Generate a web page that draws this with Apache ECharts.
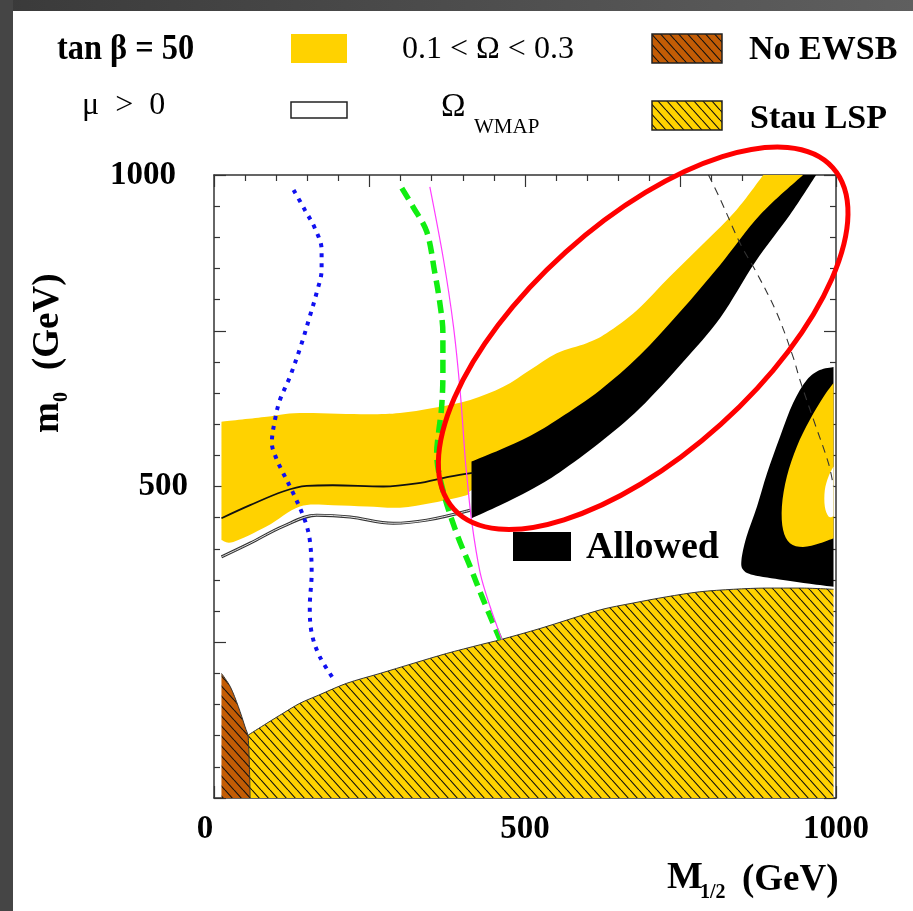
<!DOCTYPE html>
<html>
<head>
<meta charset="utf-8">
<title>m0 - M1/2 plane, tan beta = 50</title>
<script src="https://cdn.jsdelivr.net/npm/echarts/dist/echarts.min.js"></script>
<style>
html,body{margin:0;padding:0;background:#fff;}
#chart{width:913px;height:911px;}
</style>
</head>
<body>
<div id="chart"></div>
<script>
const FONT = '"Liberation Serif","Times New Roman",serif';

// Axis ticks (GeV)
const axisMin = 0, axisMax = 1000, majorStep = 250, labelledTicks = [0, 500, 1000];

// 0.1 < Omega h^2 < 0.3 band: upper edge, then lower edge (M1/2, m0)
const omegaUpper = [[12,604],[85,612],[138,618],[246,616],[299,618],[352,626],[412,639],[465,660],[508,687],[551,714],[599,730],[631,746],[680,783],[733,837],[787,890],[840,944],[883,1000]];
const omegaLower = [[947,1000],[930,960],[878,899],[814,813],[750,740],[685,668],[621,613],[556,567],[508,538],[460,515],[414,494],[406,486],[352,474],[299,466],[246,468],[191,470],[138,468],[85,436],[31,411],[12,414]];

// Allowed strip (black)
const allowedUpper = [[414,540],[460,559],[508,581],[556,610],[621,655],[685,711],[749,780],[814,856],[878,936],[947,1000]];
const allowedLower = [[968,1000],[926,936],[870,860],[814,771],[754,700],[685,626],[621,571],[556,523],[508,494],[460,470],[414,449]];

// Funnel region at large M1/2
const funnelOuter = [[996,692],[974,687],[953,671],[931,634],[910,580],[889,521],[873,468],[856,419],[848,382],[851,366],[867,358],[915,350],[958,344],[996,339]];
const funnelInner = [[996,666],[980,644],[958,607],[937,564],[921,516],[913,468],[915,430],[926,409],[947,403],[974,409],[996,417]];
const funnelHole = [[996,532],[988,516],[982,494],[982,468],[988,452],[996,452]];

// Stau LSP and no-EWSB boundaries
const stauEdge = [[55,101],[85,120],[111,136],[138,152],[168,165],[213,184],[267,200],[320,216],[374,232],[428,246],[460,254],[524,272],[621,302],[674,313],[728,323],[781,331],[835,335],[889,337],[942,337],[996,335]];
const ewsbEdge = [[12,200],[26,179],[39,147],[50,114],[55,98],[58,0]];

// WMAP strips
const wmapUpper = [[12,449],[58,470],[111,492],[149,501],[191,502],[272,500],[326,505],[379,516],[416,522]];
const wmapLower = [[12,387],[58,409],[111,436],[165,454],[219,451],[288,441],[342,446],[412,462]];

// Constraint contours
const blueContour = [[128,976],[146,944],[162,915],[173,880],[173,848],[165,811],[154,773],[141,730],[122,676],[106,639],[98,607],[93,570],[101,543],[111,522],[127,490],[146,446],[154,414],[157,361],[154,307],[157,265],[170,227],[195,187]];
const greenContour = [[302,979],[320,949],[342,909],[355,843],[363,795],[368,746],[368,682],[366,628],[361,586],[358,554],[368,494],[390,425],[412,371],[433,318],[460,254]];
const magentaContour = [[347,981],[369,864],[385,757],[396,650],[404,543],[406,522],[414,446],[428,361],[444,307],[463,254]];
const greyContour = [[795,1000],[814,961],[846,890],[873,842],[905,778],[931,708],[942,671],[966,601],[988,537],[996,500]];

// Highlight ellipse: centre, semi-axes (GeV) and tilt (degrees)
const highlight = {cx: 690, cy: 738, rx: 410, ry: 186, angle: 42};

const YELLOW = '#ffd200', BROWN = '#c25c05';

function hatch(bg) {
  const w = 9, h = 10;
  const c = document.createElement('canvas');
  c.width = w; c.height = h;
  const g = c.getContext('2d');
  g.fillStyle = bg; g.fillRect(0, 0, w, h);
  g.strokeStyle = '#111'; g.lineWidth = 1.1;
  g.beginPath();
  [-w, 0, w].forEach(o => { g.moveTo(o, 0); g.lineTo(o + w, h); });
  g.stroke();
  return {image: c, repeat: 'repeat'};
}
const stauFill = hatch(YELLOW);
const ewsbFill = hatch(BROWN);

// Outline made of smooth edges (Catmull-Rom through the given pixel points),
// joined by straight segments so the corners stay sharp.
function outlinePath(edges) {
  const f = v => v.toFixed(2);
  let d = '';
  edges.forEach((pts, ei) => {
    pts.forEach((p, i) => {
      if (i === 0) { d += (ei === 0 ? 'M' : 'L') + f(p[0]) + ' ' + f(p[1]); return; }
      const p0 = pts[i - 2] || pts[i - 1], p1 = pts[i - 1], p3 = pts[i + 1] || p;
      const c1x = p1[0] + (p[0] - p0[0]) / 6, c1y = p1[1] + (p[1] - p0[1]) / 6;
      const c2x = p[0] - (p3[0] - p1[0]) / 6, c2y = p[1] - (p3[1] - p1[1]) / 6;
      d += 'C' + [c1x, c1y, c2x, c2y, p[0], p[1]].map(f).join(' ');
    });
  });
  return d + 'Z';
}

function region(name, edges, style, z) {
  const all = [].concat(...edges);
  return {
    type: 'custom', name, data: all, encode: {x: 0, y: 1}, clip: true, z, silent: true,
    renderItem(params, api) {
      if (params.dataIndex !== 0) return null;
      const px = edges.map(e => e.map(p => api.coord(p)));
      return {type: 'path', shape: {pathData: outlinePath(px)}, style};
    }
  };
}
function curve(name, pts, lineStyle, z, smooth) {
  return {type: 'line', name, data: pts, symbol: 'none', smooth: smooth == null ? 0.35 : smooth,
          lineStyle, z, silent: true, clip: true};
}

const axisCommon = {
  type: 'value', min: axisMin, max: axisMax, interval: majorStep,
  axisLine: {show: true, onZero: false, lineStyle: {color: '#333', width: 1.5}},
  axisTick: {show: true, inside: true, length: 12, lineStyle: {color: '#333', width: 1.2}},
  minorTick: {show: true, splitNumber: 5, length: 6, lineStyle: {color: '#333', width: 1.2}},
  splitLine: {show: false}, minorSplitLine: {show: false}
};
const tickFont = {fontFamily: FONT, fontWeight: 'bold', fontSize: 33, color: '#000'};

const option = {
  animation: false,
  backgroundColor: '#fff',
  grid: {left: 214, top: 175, width: 622, height: 623, outerBoundsMode: 'none'},
  xAxis: [
    Object.assign({}, axisCommon, {position: 'bottom', axisLabel: Object.assign({}, tickFont, {
      margin: 15,
      formatter: v => v === 0 ? '{z|0}' : (labelledTicks.includes(v) ? String(v) : ''),
      rich: {z: Object.assign({}, tickFont, {padding: [0, 18, 0, 0]})}
    })}),
    Object.assign({}, axisCommon, {position: 'top', axisLabel: {show: false}})
  ],
  yAxis: [
    Object.assign({}, axisCommon, {position: 'left', axisLabel: Object.assign({}, tickFont, {
      margin: 26,
      formatter: v => v === axisMax ? '{k|' + v + '}' : ((v !== 0 && labelledTicks.includes(v)) ? String(v) : ''),
      rich: {k: Object.assign({}, tickFont, {padding: [0, 12, 0, 0]})}
    })}),
    Object.assign({}, axisCommon, {position: 'right', axisLabel: {show: false}})
  ],
  series: [
    region('omega', [omegaUpper, omegaLower], {fill: YELLOW}, 1),
    region('allowed', [allowedUpper, allowedLower], {fill: '#000'}, 2),
    region('funnel', [funnelOuter], {fill: '#000'}, 2),
    region('funnelOmega', [funnelInner], {fill: YELLOW}, 3),
    region('funnelHole', [funnelHole], {fill: '#fff'}, 4),
    {type: 'line', name: 'stau', data: stauEdge, symbol: 'none', smooth: 0.3, z: 5, silent: true,
     lineStyle: {color: '#333', width: 1}, areaStyle: {color: stauFill, opacity: 1}},
    {type: 'line', name: 'ewsb', data: ewsbEdge, symbol: 'none', smooth: 0.3, z: 5, silent: true,
     lineStyle: {color: '#333', width: 1}, areaStyle: {color: ewsbFill, opacity: 1}},
    curve('wmapUpper', wmapUpper, {color: '#111', width: 1.8}, 6),
    curve('wmapLowerEdge', wmapLower, {color: '#333', width: 3}, 6),
    curve('wmapLowerFill', wmapLower, {color: '#e4e4e4', width: 1}, 7),
    curve('blue', blueContour, {color: '#1010f0', width: 4, type: [4, 6], cap: 'butt'}, 8),
    curve('green', greenContour, {color: '#11ee11', width: 5.5, type: [13, 7], cap: 'butt'}, 8),
    curve('magenta', magentaContour, {color: '#ff3cff', width: 1.2}, 9),
    curve('grey', greyContour, {color: '#333', width: 1.1, type: [8, 6]}, 9),
    {
      type: 'custom', name: 'highlight', data: [[highlight.cx, highlight.cy]], encode: {x: 0, y: 1},
      clip: false, z: 20, silent: true,
      renderItem(params, api) {
        const c = api.coord([highlight.cx, highlight.cy]);
        const rx = api.coord([highlight.cx + highlight.rx, highlight.cy])[0] - c[0];
        const ry = c[1] - api.coord([highlight.cx, highlight.cy + highlight.ry])[1];
        return {type: 'ellipse', x: c[0], y: c[1], rotation: highlight.angle * Math.PI / 180,
                shape: {cx: 0, cy: 0, rx, ry}, style: {fill: null, stroke: '#ff0000', lineWidth: 5}};
      }
    }
  ],
  graphic: [
    // slide frame
    {type: 'rect', z: 100, shape: {x: 0, y: 0, width: 913, height: 11},
     style: {fill: new echarts.graphic.LinearGradient(0, 0, 1, 0, [{offset: 0, color: '#3a3a3a'}, {offset: 1, color: '#5f5f5f'}])}},
    {type: 'rect', z: 100, shape: {x: 0, y: 0, width: 13, height: 911}, style: {fill: '#454545'}},
    // key, first row
    {type: 'text', x: 57, y: 50, scaleX: 0.9, style: {text: 'tan \u03b2 = 50', fontFamily: FONT, fontWeight: 'bold', fontSize: 36, fill: '#000', verticalAlign: 'middle'}},
    {type: 'rect', shape: {x: 291, y: 34, width: 56, height: 29}, style: {fill: YELLOW}},
    {type: 'text', x: 402, y: 50, style: {text: '0.1 < \u03a9 < 0.3', fontFamily: FONT, fontSize: 32, fill: '#000', verticalAlign: 'middle'}},
    {type: 'rect', shape: {x: 652, y: 34, width: 70, height: 29}, style: {fill: ewsbFill, stroke: '#222', lineWidth: 1.5}},
    {type: 'text', x: 749, y: 50, style: {text: 'No EWSB', fontFamily: FONT, fontWeight: 'bold', fontSize: 34, fill: '#000', verticalAlign: 'middle'}},
    // key, second row
    {type: 'text', x: 82, y: 106, style: {text: '\u03bc  >  0', fontFamily: FONT, fontSize: 32, fill: '#000', verticalAlign: 'middle'}},
    {type: 'rect', shape: {x: 291, y: 102, width: 56, height: 16}, style: {fill: '#fff', stroke: '#222', lineWidth: 1.5}},
    {type: 'text', x: 441, y: 107, style: {text: '\u03a9', fontFamily: FONT, fontSize: 33, fill: '#000', verticalAlign: 'middle'}},
    {type: 'text', x: 474, y: 127, style: {text: 'WMAP', fontFamily: FONT, fontSize: 21, fill: '#000', verticalAlign: 'middle'}},
    {type: 'rect', shape: {x: 652, y: 101, width: 70, height: 29}, style: {fill: stauFill, stroke: '#222', lineWidth: 1.5}},
    {type: 'text', x: 750, y: 119, style: {text: 'Stau LSP', fontFamily: FONT, fontWeight: 'bold', fontSize: 34, fill: '#000', verticalAlign: 'middle'}},
    // in-plot key
    {type: 'rect', z: 30, shape: {x: 513, y: 532, width: 58, height: 29}, style: {fill: '#000'}},
    {type: 'text', z: 30, x: 586, y: 548, style: {text: 'Allowed', fontFamily: FONT, fontWeight: 'bold', fontSize: 38, fill: '#000', verticalAlign: 'middle'}},
    // axis titles
    {type: 'group', x: 48, y: 433, rotation: Math.PI / 2, children: [
      {type: 'text', x: 0, y: 0, style: {text: 'm', fontFamily: FONT, fontWeight: 'bold', fontSize: 37, fill: '#000', verticalAlign: 'middle'}},
      {type: 'text', x: 31, y: 14, style: {text: '0', fontFamily: FONT, fontWeight: 'bold', fontSize: 20, fill: '#000', verticalAlign: 'middle'}},
      {type: 'text', x: 63, y: 0, style: {text: '(GeV)', fontFamily: FONT, fontWeight: 'bold', fontSize: 37, fill: '#000', verticalAlign: 'middle'}}
    ]},
    {type: 'text', x: 667, y: 878, style: {text: 'M', fontFamily: FONT, fontWeight: 'bold', fontSize: 38, fill: '#000', verticalAlign: 'middle'}},
    {type: 'text', x: 700, y: 893, style: {text: '1/2', fontFamily: FONT, fontWeight: 'bold', fontSize: 20, fill: '#000', verticalAlign: 'middle'}},
    {type: 'text', x: 742, y: 880, style: {text: '(GeV)', fontFamily: FONT, fontWeight: 'bold', fontSize: 37, fill: '#000', verticalAlign: 'middle'}}
  ]
};

const chart = echarts.init(document.getElementById('chart'), null, {renderer: 'canvas'});
chart.setOption(option);
</script>
</body>
</html>
